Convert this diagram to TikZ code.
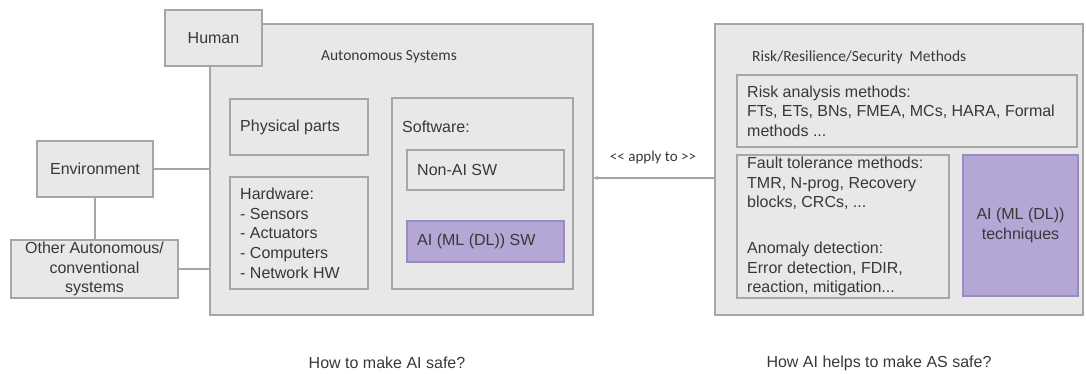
\documentclass[tikz,border=0pt]{standalone}
\usepackage{fontspec}
\setmainfont{Liberation Sans}
\newfontfamily\calfont{Carlito}
\usetikzlibrary{arrows.meta}
\definecolor{boxfill}{HTML}{E8E8E8}
\definecolor{boxline}{HTML}{A6A6A6}
\definecolor{purp}{HTML}{B4A7D6}
\definecolor{purpline}{HTML}{9A8CBF}
\definecolor{txtc}{HTML}{383838}
\begin{document}
\begin{tikzpicture}[x=1pt,y=-1pt,
  box/.style={draw=boxline, fill=boxfill, line width=1.2pt, inner sep=0pt, outer sep=0pt},
  pbox/.style={box, fill=purp, draw=purpline},
  txt/.style={text=txtc, font=\fontsize{16}{19.7}\selectfont, inner sep=0pt, align=left},
  ctxt/.style={txt, align=center},
  ttl/.style={text=txtc, font=\calfont\fontsize{15.5}{18}\selectfont, inner sep=0pt},
  small/.style={text=txtc, font=\calfont\fontsize{15}{17}\selectfont, inner sep=0pt},
  conn/.style={draw=boxline, line width=1.2pt},
]
\useasboundingbox (0,0) rectangle (1086,374);

% Autonomous systems block
\node[box, minimum width=383, minimum height=291] (as) at (401.5,169.5) {};
\node[box, minimum width=97, minimum height=56] (human) at (213.5,38) {};
\node[ctxt] (human-t) at (human) {Human};
\node[ttl] (as-t) at (389,57) {Autonomous Systems};

\node[box, minimum width=138, minimum height=56] (phys) at (299,127) {};
\node[txt, anchor=west] (phys-t) at ([xshift=10pt]phys.west) {Physical parts};

\node[box, minimum width=138, minimum height=112] (hw) at (299,233) {};
\node[txt, anchor=west] (hw-t) at ([xshift=10pt]hw.west) {Hardware:\\- Sensors\\- Actuators\\- Computers\\- Network HW};

\node[box, minimum width=181, minimum height=191] (sw) at (482.5,193.5) {};
\node[txt, anchor=west] (sw-t) at (402,127) {Software:};
\node[box, minimum width=157, minimum height=40] (nonai) at (485.5,170) {};
\node[txt, anchor=west] (nonai-t) at ([xshift=10pt]nonai.west) {Non-AI SW};
\node[pbox, minimum width=157, minimum height=41] (aisw) at (485.5,241.5) {};
\node[txt, anchor=west] (aisw-t) at ([xshift=10pt]aisw.west) {AI (ML (DL)) SW};

% environment
\node[box, minimum width=116, minimum height=56] (env) at (95,169) {};
\node[ctxt] (env-t) at (env) {Environment};
\node[box, minimum width=167, minimum height=58] (other) at (94.5,269) {};
\node[ctxt] (other-t) at (other) {Other Autonomous/\\conventional\\systems};

\draw[conn] (env.east) -- (env.east -| as.west);
\draw[conn] (other.east) -- (other.east -| as.west);
\draw[conn] (env.south) -- (env.south |- other.north);

% Methods block
\node[box, minimum width=368, minimum height=291] (meth) at (899,169.5) {};
\node[ttl, anchor=west] (meth-t) at (752,57) {Risk/Resilience/Security\ \ Methods};
\node[box, minimum width=340, minimum height=72] (risk) at (907,111) {};
\node[txt, anchor=west] (risk-t) at ([xshift=10pt]risk.west) {Risk analysis methods:\\FTs, ETs, BNs, FMEA, MCs, HARA, Formal\\methods ...};
\node[box, minimum width=212, minimum height=143] (ft) at (843,226.5) {};
\node[txt, anchor=west] (ft-t) at ([xshift=10pt]ft.west) {Fault tolerance methods:\\TMR, N-prog, Recovery\\blocks, CRCs, ...\\[26pt]Anomaly detection:\\Error detection, FDIR,\\reaction, mitigation...};
\node[pbox, minimum width=115, minimum height=141] (ait) at (1020.5,225.5) {};
\node[ctxt] (ait-t) at (ait) {AI (ML (DL))\\techniques};

% apply arrow
\draw[conn, -{Stealth[length=5pt,width=4pt]}] ([yshift=-8.5pt]meth.west) -- ([yshift=-8.5pt]as.east);
\node[small] (apply) at (653,158) {<\kern0pt< apply to >\kern0pt>};

% questions
\node[txt] (q1) at (387,363) {How to make AI safe?};
\node[txt] (q2) at (879,363) {How AI helps to make AS safe?};
\end{tikzpicture}
\end{document}
